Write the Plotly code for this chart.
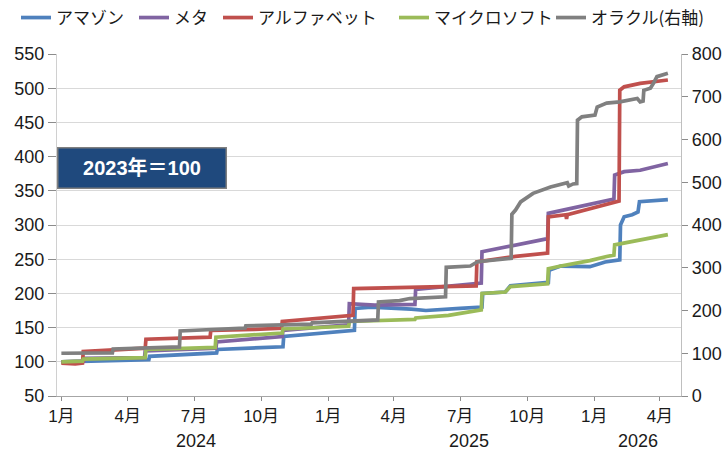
import plotly.graph_objects as go

# ---- data ----
amazon_dates = ["2024-01-01","2024-02-22","2024-04-17","2024-04-30","2024-05-01","2024-06-15","2024-08-01","2024-08-02",
                "2024-09-22","2024-10-31","2024-11-01","2024-12-21","2025-02-06","2025-02-07","2025-03-01","2025-04-25",
                "2025-05-15","2025-07-01","2025-07-31","2025-08-01","2025-09-01","2025-09-08","2025-10-26","2025-10-30",
                "2025-10-31","2025-11-16","2025-12-26","2026-01-16","2026-02-05","2026-02-06","2026-02-11","2026-02-22",
                "2026-03-02","2026-03-04","2026-04-12"]
amazon_vals = [100,101,102.5,103,108,110,113,118,
               120,122,137,142,146,178,180,177,
               175,178,180,200,202,211,215,216,
               234,240,239,246,249,300,312,315,
               319,334,337]

meta_dates = ["2024-01-01","2024-02-01","2024-02-02","2024-04-24","2024-04-25","2024-07-31","2024-08-01","2024-09-22",
              "2024-10-30","2024-10-31","2024-12-21","2025-01-29","2025-01-30","2025-03-06","2025-04-30","2025-05-01",
              "2025-07-01","2025-07-30","2025-07-31","2025-10-29","2025-10-30","2025-12-03","2026-01-25","2026-01-28",
              "2026-01-29","2026-02-11","2026-03-05","2026-04-12"]
meta_vals = [100,101,105,106,116,120,129,133,
             137,146,150,154,185,183,184,206,
             212,215,261,280,317,325,337,338,
             373,378,380,390]

alphabet_dates = ["2024-01-01","2024-01-20","2024-01-30","2024-01-31","2024-04-25","2024-04-26","2024-07-23","2024-07-24",
                  "2024-09-22","2024-10-29","2024-10-30","2025-01-28","2025-02-04","2025-02-05","2025-04-24","2025-07-23",
                  "2025-07-24","2025-09-15","2025-10-29","2025-10-30","2025-11-23","2025-11-24","2025-11-25","2026-01-25",
                  "2026-02-04","2026-02-05","2026-02-11","2026-03-05","2026-04-12"]
alphabet_vals = [98,97,98,115,120,133,136,146,
                 147.5,149,159,167,168,207,209,211,
                 246,254,259,312,315,309,315,333,
                 335,497,502,507,512]

microsoft_dates = ["2024-01-01","2024-01-30","2024-01-31","2024-04-25","2024-04-26","2024-07-30","2024-07-31","2024-10-30",
                   "2024-10-31","2025-01-29","2025-01-30","2025-04-30","2025-05-01","2025-06-15","2025-07-30","2025-07-31",
                   "2025-09-01","2025-09-08","2025-10-29","2025-10-30","2025-11-16","2025-12-26","2026-01-18","2026-01-28",
                   "2026-01-29","2026-03-05","2026-04-12"]
microsoft_vals = [100,101,104,106,118,121,136,142,
                  148,152,159,162,164,168,176,200,
                  202,210,214,236,240,248,254,256,
                  271,278,286]

oracle_dates = ["2024-01-01","2024-03-11","2024-03-12","2024-06-11","2024-06-12","2024-07-20","2024-09-09","2024-09-10",
                "2024-10-29","2024-12-09","2024-12-10","2025-03-10","2025-03-11","2025-04-09","2025-04-23","2025-06-08",
                "2025-06-11","2025-06-12","2025-07-15","2025-07-25","2025-09-09","2025-09-10","2025-09-15","2025-09-22",
                "2025-10-09","2025-11-02","2025-11-25","2025-11-27","2025-12-03","2025-12-08","2025-12-09","2025-12-15",
                "2026-01-02","2026-01-05","2026-01-18","2026-02-05","2026-03-01","2026-03-05","2026-03-09","2026-03-10",
                "2026-03-19","2026-03-23","2026-03-28","2026-04-12"]
oracle_vals = [100,101,110,115,152,155,159,164,
               166,168,171,178,220,223,228,230,
               232,301,304,314,322,425,435,454,
               474,489,499,491,496,497,645,653,
               657,676,685,688,696,688,690,715,
               720,731,747,755]

series_names = ["アマゾン", "メタ", "アルファベット", "マイクロソフト", "オラクル(右軸)"]
series_colors = ["#4f81bd", "#8064a2", "#c0504d", "#9bbb59", "#808080"]

quarter_ticks = ["2024-01-01","2024-04-01","2024-07-01","2024-10-01",
                 "2025-01-01","2025-04-01","2025-07-01","2025-10-01",
                 "2026-01-01","2026-04-01"]
quarter_labels = ["1月","4月","7月","10月","1月","4月","7月","10月","1月","4月"]
year_labels = ["2024", "2025", "2026"]
year_label_dates = ["2024-07-03", "2025-07-13", "2026-03-02"]
note_text = "2023年＝100"

# ---- figure geometry (pixels) ----
W, H = 727, 453
plot_l, plot_r, plot_t, plot_b = 57, 681, 54, 396
legend_w = [73, 39, 131, 112, 125]   # per-entry legend widths (layout)

fig = go.Figure()
left_series = [(amazon_dates, amazon_vals), (meta_dates, meta_vals),
               (alphabet_dates, alphabet_vals), (microsoft_dates, microsoft_vals)]
for (d, v), name, col, lw in zip(left_series, series_names[:4], series_colors[:4], legend_w[:4]):
    fig.add_trace(go.Scatter(x=d, y=v, mode="lines", name=name, legendwidth=lw,
                             line=dict(color=col, width=3.7)))
fig.add_trace(go.Scatter(x=oracle_dates, y=oracle_vals, mode="lines", name=series_names[4],
                         legendwidth=legend_w[4], yaxis="y2",
                         line=dict(color=series_colors[4], width=3.7)))

num_font = "Liberation Sans, Arial, Noto Sans CJK JP, sans-serif"
jp_font = "Noto Sans CJK JP, sans-serif"

annotations = [
    dict(x=142 / W, y=1 - 168 / H, xref="paper", yref="paper", text="<b>" + note_text + "</b>",
         showarrow=False, font=dict(family=num_font, size=20, color="white"),
         bgcolor="#1f497d", bordercolor="#7f7f7f", borderwidth=1.5, borderpad=3,
         width=161, height=33, align="center", xanchor="center", yanchor="middle"),
]
for lbl, dt in zip(year_labels, year_label_dates):
    annotations.append(dict(x=dt, y=1 - 441 / H, xref="x", yref="paper", text=lbl, showarrow=False,
                            font=dict(family=num_font, size=18, color="#1a1a1a"),
                            xanchor="center", yanchor="middle"))

fig.update_layout(
    width=W, height=H, autosize=False,
    margin=dict(l=0, r=0, t=0, b=0, autoexpand=False),
    paper_bgcolor="white", plot_bgcolor="white",
    showlegend=True,
    legend=dict(orientation="h", x=16 / W, xanchor="left", y=1 - 18 / H, yanchor="middle",
                font=dict(family=jp_font, size=17, color="#1a1a1a"),
                bgcolor="rgba(0,0,0,0)", itemclick=False, tracegroupgap=0),
    xaxis=dict(type="date", range=["2023-12-26", "2026-04-30"],
               domain=[plot_l / W, plot_r / W],
               tickmode="array", tickvals=quarter_ticks, ticktext=quarter_labels,
               ticks="outside", ticklen=4, tickcolor="#8c8c8c",
               showline=True, linecolor="#a6a6a6", linewidth=1.2,
               showgrid=False, zeroline=False,
               tickfont=dict(family=num_font, size=17, color="#1a1a1a")),
    yaxis=dict(range=[50, 550], dtick=50, tick0=50,
               domain=[1 - plot_b / H, 1 - plot_t / H],
               ticks="outside", ticklen=8, tickcolor="#8c8c8c",
               showline=True, linecolor="#d0d0d0", linewidth=1,
               showgrid=True, gridcolor="#d9d9d9", gridwidth=1.2, zeroline=False,
               tickfont=dict(family=num_font, size=18, color="#1a1a1a")),
    yaxis2=dict(range=[0, 800], dtick=100, tick0=0, overlaying="y", side="right",
                ticks="outside", ticklen=6, tickcolor="#8c8c8c",
                showline=True, linecolor="#bfbfbf", linewidth=1.2,
                showgrid=False, zeroline=False,
                tickfont=dict(family=num_font, size=18, color="#1a1a1a")),
    annotations=annotations,
)

# remove the browser's default 8px body margin so the figure sits at the page corner
fig.write_html("out.html", config={"displayModeBar": False},
               post_script="document.body.style.margin='0px';")
